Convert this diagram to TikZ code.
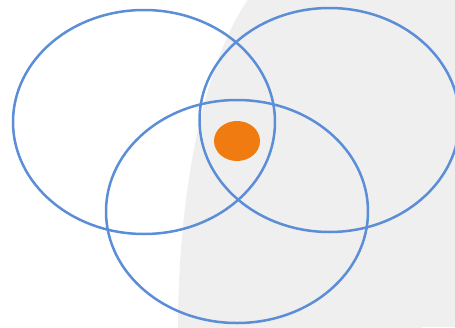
\documentclass[tikz,border=0pt]{standalone}
\begin{document}
\begin{tikzpicture}[x=1pt,y=-1pt]
\definecolor{bg}{HTML}{EFEFEF}
\definecolor{ring}{HTML}{5B8ED6}
\definecolor{dot}{HTML}{F07B10}
\tikzset{ringline/.style={draw=ring,line width=2.5pt}}
\useasboundingbox (0,0) rectangle (455,327);
\begin{scope}
\clip (0,0) rectangle (455,327);
\fill[bg] (300,330) ellipse [x radius=122, y radius=365];
\fill[bg] (300,0) rectangle (455,327);
\draw[ringline] (144,122) ellipse [x radius=131, y radius=112];
\draw[ringline] (329.5,120) ellipse [x radius=130, y radius=112];
\draw[ringline] (237,211.5) ellipse [x radius=131, y radius=111.5];
\fill[dot] (237,141) ellipse [x radius=23, y radius=20];
\end{scope}
\end{tikzpicture}
\end{document}
